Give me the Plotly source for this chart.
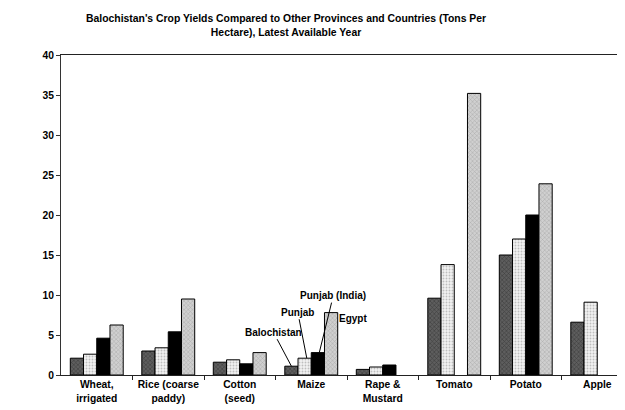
import plotly.graph_objects as go

categories = ["Wheat,<br>irrigated", "Rice (coarse<br>paddy)", "Cotton<br>(seed)", "Maize",
              "Rape &<br>Mustard", "Tomato", "Potato", "Apple"]
balochistan = [2.1, 3.0, 1.6, 1.1, 0.7, 9.6, 15.0, 6.6]
punjab = [2.6, 3.4, 1.9, 2.1, 1.0, 13.8, 17.0, 9.1]
punjab_india = [4.6, 5.4, 1.4, 2.8, 1.25, None, 20.0, None]
egypt = [6.25, 9.5, 2.8, 7.8, None, 35.2, 23.9, None]
series_names = ["Balochistan", "Punjab", "Punjab (India)", "Egypt"]
y_ticks = [0, 5, 10, 15, 20, 25, 30, 35, 40]

FONT = "Liberation Sans, Arial, sans-serif"

styles = [
    dict(color="#4a4a4a", pattern=dict(shape="x", fgcolor="#1a1a1a", bgcolor="#5e5e5e", size=3, solidity=0.35)),
    dict(color="#ececec", pattern=dict(shape=".", fgcolor="#8a8a8a", bgcolor="#f2f2f2", size=3, solidity=0.3)),
    dict(color="#000000"),
    dict(color="#c4c4c4", pattern=dict(shape="x", fgcolor="#808080", bgcolor="#d0d0d0", size=3, solidity=0.3)),
]
data = [balochistan, punjab, punjab_india, egypt]

L, T, B, R = 53, 47, 43, 0
W, H = 625, 410

fig = go.Figure()
x_idx = list(range(len(categories)))
for name, vals, st in zip(series_names, data, styles):
    marker = dict(line=dict(color="#000000", width=1))
    marker.update(st)
    fig.add_trace(go.Bar(x=x_idx, y=vals, name=name, marker=marker))

fig.update_layout(
    width=W, height=H,
    margin=dict(l=L, r=R, t=T, b=B),
    paper_bgcolor="white", plot_bgcolor="white",
    barmode="group", bargap=0.26, bargroupgap=0,
    showlegend=False,
    font=dict(family=FONT, size=10, color="#000000"),
)
fig.update_xaxes(
    tickmode="array", tickvals=x_idx, ticktext=[f"<b>{c}</b>" for c in categories],
    range=[-0.5, 7.5],
    showline=True, linecolor="#222222", linewidth=1, mirror=True,
    ticks="", showgrid=False, zeroline=False,
    tickfont=dict(family=FONT, size=10.3),
)
fig.update_xaxes(minor=dict(tickmode="array", tickvals=[i + 0.5 for i in x_idx], ticks="outside",
                            ticklen=4, tickcolor="#222222", showgrid=False))
fig.update_yaxes(
    range=[0, 40], tickvals=y_ticks, ticktext=[f"<b>{v}</b>" for v in y_ticks],
    showline=True, linecolor="#333333", linewidth=1,
    ticks="outside", ticklen=4, tickcolor="#333333",
    showgrid=False, zeroline=False,
    tickfont=dict(family=FONT, size=10.3),
)

plot_w = W - L - R
fig.add_annotation(
    text="<b>Balochistan's Crop Yields Compared to Other Provinces and Countries (Tons Per<br>Hectare), Latest Available Year</b>",
    xref="paper", yref="paper", x=(278 - L) / plot_w, y=1, yshift=44, xanchor="center", yanchor="top",
    showarrow=False, font=dict(family=FONT, size=10.4), align="center",
)

maize = 3
off = [-0.2775, -0.0925, 0.0925, 0.2775]
fig.add_annotation(x=maize + off[0], y=balochistan[maize], text="<b>Balochistan</b>", showarrow=True,
                   arrowhead=0, arrowwidth=1, arrowcolor="#000", ax=-18, ay=-34, standoff=0,
                   font=dict(family=FONT, size=10))
fig.add_annotation(x=maize + off[1] + 0.03, y=punjab[maize], text="<b>Punjab</b>", showarrow=True,
                   arrowhead=0, arrowwidth=1, arrowcolor="#000", ax=-9, ay=-46, standoff=0,
                   font=dict(family=FONT, size=10))
fig.add_annotation(x=maize + off[2] + 0.02, y=punjab_india[maize], text="<b>Punjab (India)</b>", showarrow=True,
                   arrowhead=0, arrowwidth=1, arrowcolor="#000", ax=14, ay=-57, standoff=0,
                   font=dict(family=FONT, size=10))
fig.add_annotation(x=maize + off[3] + 0.08, y=egypt[maize] - 0.7, text="<b>Egypt</b>", showarrow=False,
                   xanchor="left", yanchor="middle", font=dict(family=FONT, size=10))

fig.write_html("out.html")
